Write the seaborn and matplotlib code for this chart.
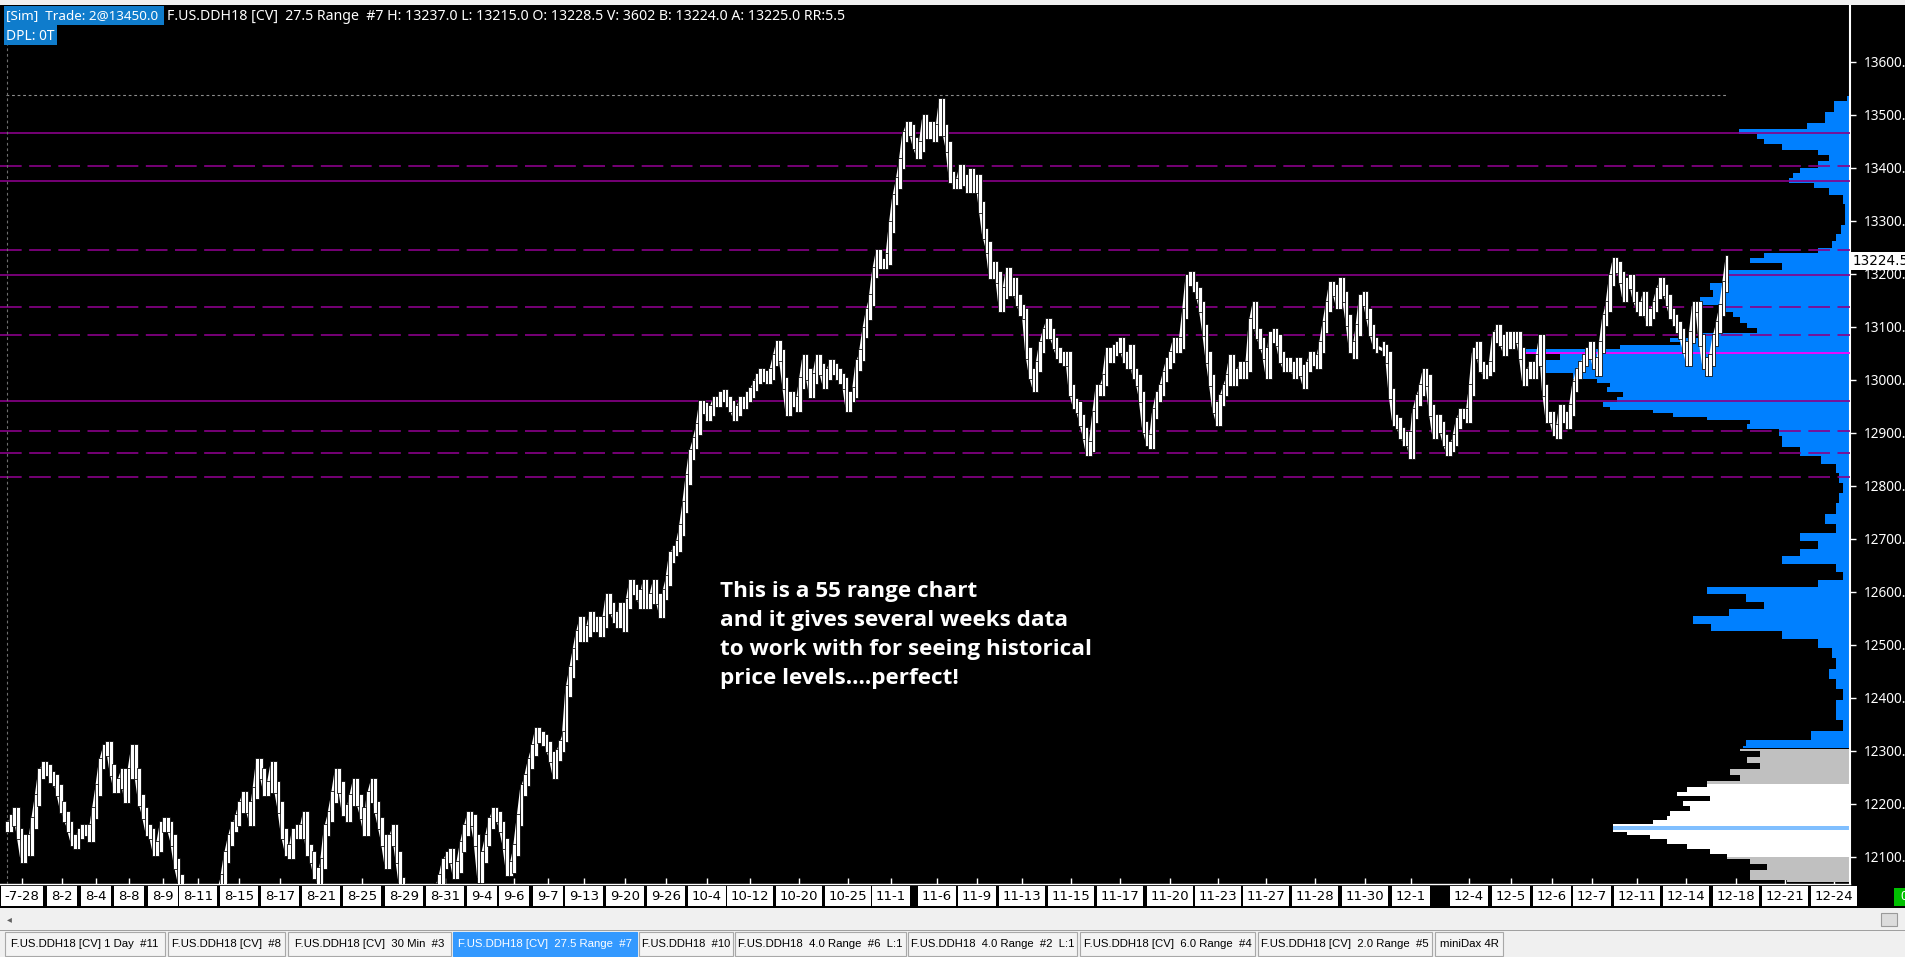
import numpy as np
import matplotlib
matplotlib.use("Agg")
import matplotlib.pyplot as plt
import matplotlib.transforms as mtrans
from matplotlib.patches import Rectangle
import seaborn as sns

W, H = 1905, 957

# ---------------- data ----------------
# price readings (mid of each range bar), four consecutive segments
segA_start, segA_step = 7.14, 3.5714
segA = [12157, 12169, 12182, 12144, 12100, 12131, 12113, 12163, 12207, 12257,
        12270, 12264, 12251, 12245, 12226, 12194, 12176, 12157, 12131, 12125,
        12144, 12150, 12150, 12138, 12182, 12226, 12276, 12301, 12308, 12264,
        12232, 12238, 12257, 12213, 12257, 12301, 12257, 12207, 12182, 12150,
        12144, 12113, 12119, 12157, 12163, 12157, 12131, 12087, 12056, 12037,
        12020, 11990, 11970, 11960, 11970, 11980, 11990, 12000, 12010, 12030,
        12056, 12100, 12131, 12157, 12169, 12194, 12213, 12194, 12169, 12220,
        12276, 12257, 12226, 12232, 12270, 12232, 12194, 12144, 12113, 12106,
        12144, 12150, 12144, 12176, 12113, 12100, 12069, 12056, 12087, 12150,
        12176, 12213, 12257, 12232, 12188, 12176, 12207, 12238, 12207, 12182,
        12150, 12213, 12238, 12194, 12163, 12131, 12087, 12131, 12150, 12100,
        12050, 12030, 12010, 11990, 11980, 11975, 11980, 11990, 12000, 12020,
        12040, 12056, 12087, 12100, 12106, 12069, 12081, 12119, 12150, 12176,
        12169, 12131, 12062, 12100, 12131, 12163, 12182, 12176, 12157, 12125,
        12075, 12081, 12113, 12169, 12226, 12245, 12276, 12301, 12333, 12326,
        12320, 12308, 12289, 12257]
segB_start, segB_step = 556.67, 3.3333
segB = [12292, 12309, 12327, 12413, 12448, 12483, 12517, 12543, 12517, 12526,
        12552, 12535, 12543, 12526, 12543, 12587, 12569, 12552, 12543, 12569,
        12535, 12578, 12613, 12604, 12595, 12578, 12613, 12578, 12587, 12613,
        12587, 12561, 12595, 12621, 12665, 12678, 12686, 12716, 12760, 12812,
        12859, 12881, 12907, 12950, 12946, 12933, 12942, 12959, 12959, 12968,
        12972, 12959, 12950, 12933, 12942, 12959, 12955, 12968, 12976, 12989,
        13002, 13011, 13007, 13002, 13011, 13037, 13063, 13046, 12994, 12942,
        12968, 12959, 12950, 12994, 13037, 13011, 12976, 13002, 13037, 13020,
        12994, 13011, 13028, 13020, 13011, 13002, 12994, 12950, 12968, 12976,
        13028, 13046, 13089, 13124, 13150, 13202, 13236, 13219, 13219, 13228,
        13288, 13340, 13371]
segC_start, segC_step = 900.0, 3.3333
segC = [13408, 13459, 13477, 13471, 13446, 13427, 13440, 13490, 13465, 13477,
        13459, 13471, 13521, 13471, 13440, 13383, 13370, 13370, 13396, 13377,
        13364, 13389, 13364, 13377, 13326, 13276, 13251, 13201, 13213, 13194,
        13138, 13163, 13201, 13169, 13182, 13150, 13131, 13125, 13050, 13012,
        12987, 13025, 13062, 13087, 13106, 13087, 13069, 13050, 13043, 13037,
        13043, 12981, 12955, 12949, 12924, 12899, 12867, 12874, 12930, 12981,
        12981, 12999, 13050, 13043, 13056, 13062, 13069, 13043, 13031, 13056,
        13012, 12999, 12968, 12911, 12886, 12880, 12936, 12968, 12981, 13006,
        13031, 13043, 13069, 13062, 13069, 13125, 13188, 13194, 13176, 13163,
        13138, 13094, 13043, 12999, 12949, 12924, 12962, 12981, 12999, 13037,
        12999, 13012, 13025, 13012, 13025, 13106, 13138, 13087, 13069, 13050,
        13012, 13081, 13087, 13075, 13043, 13025, 13031, 13025, 13012, 13031,
        13018, 12993, 13025, 13043, 13037, 13031, 13062, 13100, 13138, 13176,
        13169, 13144, 13182, 13157, 13113, 13062, 13050, 13094, 13150, 13157,
        13125, 13094, 13069, 13062]
segD_start, segD_step = 1383.33, 3.3333
segD = [13056, 13043, 12974, 12924, 12918, 12899, 12886, 12892, 12861, 12936,
        12962, 12981, 13012, 12999, 12943, 12899, 12924, 12911, 12886, 12867,
        12874, 12886, 12918, 12936, 12936, 12930, 12981, 13050, 13062, 13025,
        13012, 13018, 13025, 13081, 13094, 13075, 13056, 13081, 13069, 13081,
        13081, 13050, 12999, 13012, 13025, 13012, 13037, 13075, 12981, 12930,
        12930, 12905, 12899, 12943, 12930, 12918, 12943, 12987, 13012, 13025,
        13037, 13050, 13062, 13031, 13018, 13062, 13113, 13138, 13188, 13220,
        13213, 13194, 13157, 13182, 13188, 13157, 13138, 13131, 13157, 13113,
        13125, 13138, 13163, 13182, 13169, 13150, 13125, 13113, 13100, 13087,
        13062, 13037, 13081, 13138, 13138, 13075, 13031, 13018, 13037, 13075,
        13100, 13131, 13176, 13224.5]
last_price = 13224.5
range_half = 11.0

# date labels along the bottom and their bar positions
date_labels = ["-7-28", "8-2", "8-4", "8-8", "8-9", "8-11", "8-15", "8-17", "8-21",
               "8-25", "8-29", "8-31", "9-4", "9-6", "9-7", "9-13", "9-20", "9-26",
               "10-4", "10-12", "10-20", "10-25", "11-1", "11-6", "11-9", "11-13",
               "11-15", "11-17", "11-20", "11-23", "11-27", "11-28", "11-30", "12-1",
               "12-4", "12-5", "12-6", "12-7", "12-11", "12-14", "12-18", "12-21", "12-24"]
date_pos = [22, 62, 96, 129, 163, 198, 239, 280, 321, 362, 404, 445, 482, 514, 548,
            584, 625, 666, 707, 750, 799, 848, 891, 937, 977, 1022, 1071, 1120, 1170,
            1218, 1266, 1315, 1365, 1411, 1469, 1511, 1552, 1592, 1637, 1686, 1736,
            1785, 1834]

# price axis
price_ticks = list(range(12100, 13601, 100))

# horizontal levels
level_price = [13465, 13403, 13375, 13245, 13198, 13137, 13084, 12960, 12904, 12862, 12816]
level_dashed = [False, True, False, True, False, True, True, False, True, True, True]
high_mark = 13537
vwap_level = 13050

# volume profile (upper, blue): price level -> volume (width units)
prof_price = [13536, 13517, 13492, 13478, 13468, 13458, 13449, 13439, 13429, 13419,
              13405, 13395, 13385, 13375, 13366, 13356, 13341, 13322, 13302, 13283,
              13268, 13254, 13244, 13234, 13224, 13215, 13200, 13188, 13176, 13163,
              13150, 13131, 13125, 13113, 13100, 13094, 13083, 13075, 13069, 13062,
              13054, 13043, 13031, 13018, 13006, 12996, 12990, 12981, 12971, 12962,
              12952, 12946, 12940, 12933, 12927, 12921, 12911, 12903, 12883, 12864,
              12849, 12834, 12815, 12796, 12776, 12757, 12737, 12718, 12703, 12688,
              12674, 12659, 12644, 12630, 12615, 12601, 12591, 12571, 12562, 12547,
              12532, 12518, 12503, 12484, 12464, 12445, 12425, 12406, 12386, 12367,
              12347, 12328, 12313, 12306]
prof_vol = [3, 16, 25, 43, 111, 93, 86, 68, 32, 21,
            32, 50, 57, 61, 36, 21, 7, 5, 5, 9,
            14, 18, 32, 86, 100, 68, 122, 121, 140, 137,
            150, 127, 117, 110, 103, 93, 150, 180, 170, 230,
            329, 290, 310, 307, 277, 253, 240, 243, 227, 233,
            247, 240, 197, 177, 143, 100, 103, 71, 68, 50,
            29, 14, 11, 7, 11, 14, 25, 14, 50, 32,
            50, 68, 14, 7, 32, 143, 104, 86, 121, 157,
            139, 68, 32, 18, 14, 21, 14, 7, 14, 14,
            7, 39, 104, 107]
# lower (older) profile
low_price = [12304, 12295, 12282, 12270, 12260, 12248, 12238, 12226, 12220, 12210,
             12201, 12191, 12182, 12172, 12166, 12157, 12150, 12144, 12138, 12128,
             12119, 12110, 12100, 12091, 12081, 12069, 12059, 12053]
low_vol = [110, 90, 103, 90, 120, 110, 143, 163, 173, 140,
           167, 160, 180, 183, 197, 237, 237, 223, 200, 183,
           163, 140, 123, 100, 83, 100, 100, 63]
value_area = (12095, 12245)
poc_band = (12148, 12160)

header1 = "[Sim]  Trade: 2@13450.0"
header2 = ("F.US.DDH18 [CV]  27.5 Range  #7 H: 13237.0 L: 13215.0 O: 13228.5 "
           "V: 3602 B: 13224.0 A: 13225.0 RR:5.5")
header3 = "DPL: 0T"
note_lines = ["This is a 55 range chart", "and it gives several weeks data",
              "to work with for seeing historical", "price levels....perfect!"]
tabs = ["F.US.DDH18 [CV] 1 Day  #11", "F.US.DDH18 [CV]  #8", "F.US.DDH18 [CV]  30 Min  #3",
        "F.US.DDH18 [CV]  27.5 Range  #7", "F.US.DDH18  #10", "F.US.DDH18  4.0 Range  #6  L:1",
        "F.US.DDH18  4.0 Range  #2  L:1", "F.US.DDH18 [CV]  6.0 Range  #4",
        "F.US.DDH18 [CV]  2.0 Range  #5", "miniDax 4R"]
active_tab = 3

# ---------------- style ----------------
sns.set_theme(style="dark")
plt.rcParams['font.family'] = ['Noto Sans', 'DejaVu Sans']
tabfont = ['Liberation Sans', 'DejaVu Sans']

BLUE = '#0080ff'
PURPLE = '#8a008a'

fig = plt.figure(figsize=(W / 100, H / 100), dpi=100, facecolor='black')


def fx(px):
    return px / W


def fy(py):
    return 1 - py / H


AX_R = 1850
ax = fig.add_axes([0, fy(884), AX_R / W, (884 - 6) / H])
ax.set_facecolor('black')
ax.grid(False)
X_MAX = 1850
ax.set_xlim(0, X_MAX)
ax.set_ylim(12048.5, 13705.1)

# ---- volume profile ----
pp = np.array(prof_price, float)
pv = np.array(prof_vol, float)
ax.fill_betweenx(pp, X_MAX - pv, X_MAX, step='mid', color=BLUE, lw=0, zorder=2)
lp = np.array(low_price, float)
lv = np.array(low_vol, float)
in_va = (lp >= value_area[0]) & (lp <= value_area[1])
in_poc = (lp >= poc_band[0]) & (lp <= poc_band[1])
ax.fill_betweenx(lp, X_MAX - lv, X_MAX, step='mid', color='#c0c0c0', lw=0, zorder=2)
ax.fill_betweenx(lp, X_MAX - lv, X_MAX, where=in_va, step='mid', color='white',
                 lw=0, zorder=2, interpolate=False)
ax.fill_betweenx(lp, X_MAX - lv, X_MAX, where=in_poc, step='mid', color='#80bfff',
                 lw=0, zorder=2)

# ---- levels ----
for p, d in zip(level_price, level_dashed):
    ax.axhline(p, color=PURPLE, lw=1.2, ls=(0, (13, 4.5)) if d else '-', zorder=3)
ax.hlines(vwap_level, 1522, X_MAX, color='#ff00ff', lw=1.3, zorder=3)
ax.hlines(high_mark, 6, 1728, color='#8c8c8c', lw=0.8, ls=(0, (2.5, 2.5)), zorder=3)
ax.axvline(6.5, color='#6e6e6e', lw=0.8, ls=(0, (2.5, 2.5)), zorder=3)

# ---- price bars ----
xs, ps = [], []
for st, sp, vals in [(segA_start, segA_step, segA), (segB_start, segB_step, segB),
                     (segC_start, segC_step, segC), (segD_start, segD_step, segD)]:
    xs.append(st + sp * np.arange(len(vals)))
    ps.append(np.array(vals, float))
xs = np.concatenate(xs)
ps = np.concatenate(ps)
sns.lineplot(x=xs, y=ps, color='white', lw=2.2, ax=ax, zorder=4, sort=False)
prev = np.r_[ps[0], ps[:-1]]
lo = np.minimum(prev, ps) - range_half
hi = np.maximum(prev, ps) + range_half
ax.bar(xs, hi - lo, bottom=lo, width=3.6, color='white', edgecolor='black',
       linewidth=0.55, zorder=5)

# ---- axes cosmetics ----
for s in ['top', 'left']:
    ax.spines[s].set_visible(False)
ax.spines['right'].set_color('white')
ax.spines['right'].set_linewidth(1.5)
ax.spines['bottom'].set_color('white')
ax.spines['bottom'].set_linewidth(1.0)
ax.yaxis.tick_right()
ax.set_yticks(price_ticks)
ax.set_yticklabels([f"{v:.1f}" for v in price_ticks])
ax.tick_params(axis='y', colors='white', length=4, width=1, pad=6, labelsize=9.8,
               direction='out', right=True, left=False)
ax.set_xticks(date_pos)
ax.set_xticklabels([])
ax.tick_params(axis='x', colors='white', length=4, width=1, direction='in', bottom=True)
ax.set_xlabel('')
ax.set_ylabel('')

trans = mtrans.blended_transform_factory(ax.transData, ax.transAxes)
y_lab = -(896 - 884) / (884 - 6)
for lab, xp in zip(date_labels, date_pos):
    ax.text(xp, y_lab, lab, transform=trans, ha='center', va='center', fontsize=9.5,
            family=['DejaVu Sans'], color='black', clip_on=False, zorder=10,
            bbox=dict(boxstyle='square,pad=0.3', fc='white', ec='none'))

# last price tag on the price axis
ytrans = mtrans.blended_transform_factory(ax.transAxes, ax.transData)
ax.text(1.0015, last_price, f"{last_price:.1f}", transform=ytrans, ha='left', va='center',
        fontsize=9.8, color='black', family=['DejaVu Sans'], clip_on=False, zorder=12,
        bbox=dict(boxstyle='square,pad=0.15', fc='white', ec='none'))

# ---- annotation ----
for i, line in enumerate(note_lines):
    fig.text(fx(720), fy(591 + 29.3 * i), line, color='white', fontsize=16.2,
             fontweight='bold', family=['Open Sans', 'DejaVu Sans'], va='center', ha='left')

# ---- header ----
fig.patches.append(Rectangle((0, fy(5)), 1, 5 / H, transform=fig.transFigure,
                             fc='#f0f0f0', ec='none', zorder=1))
fig.patches.append(Rectangle((fx(4), fy(25)), fx(164 - 4), 19 / H, transform=fig.transFigure,
                             fc='#0f7ccc', ec='none', zorder=2))
fig.patches.append(Rectangle((fx(4), fy(45)), fx(57 - 4), 20 / H, transform=fig.transFigure,
                             fc='#0f7ccc', ec='none', zorder=2))
fig.text(fx(6), fy(16), header1, color='white', fontsize=9.7, va='center', ha='left', zorder=3)
fig.text(fx(167), fy(16), header2, color='white', fontsize=10.2, va='center', ha='left', zorder=3)
fig.text(fx(6), fy(36), header3, color='white', fontsize=9.9, va='center', ha='left', zorder=3)

# ---- bottom bars ----
fig.patches.append(Rectangle((0, 0), 1, fy(908), transform=fig.transFigure,
                             fc='#f0f0f0', ec='none', zorder=1))
fig.patches.append(Rectangle((0, fy(931)), 1, 1 / H, transform=fig.transFigure,
                             fc='#a0a0a0', ec='none', zorder=2))
fig.text(fx(9), fy(919), "\u25c2", color='#606060', fontsize=7, va='center', ha='center',
         family=['DejaVu Sans'])
fig.patches.append(Rectangle((fx(1881), fy(926)), fx(16), 13 / H, transform=fig.transFigure,
                             fc='#dcdcdc', ec='#9a9a9a', lw=0.8, zorder=2))
fig.patches.append(Rectangle((fx(1894), fy(906)), fx(12), 18 / H, transform=fig.transFigure,
                             fc='#00c000', ec='none', zorder=2))
fig.text(fx(1900), fy(897), "0", color='white', fontsize=9, va='center', ha='left', zorder=3)

tab_edges = [(5, 165), (168, 285), (288, 451), (453, 637), (639, 733), (735, 906),
             (908, 1077), (1080, 1255), (1258, 1432), (1435, 1503)]
for i, (lab, (x0, x1)) in enumerate(zip(tabs, tab_edges)):
    act = i == active_tab
    fig.patches.append(Rectangle((fx(x0), fy(956)), fx(x1 - x0), 24 / H,
                                 transform=fig.transFigure,
                                 fc='#3399ff' if act else '#f4f4f4',
                                 ec='#3399ff' if act else '#a8a8a8', lw=0.8, zorder=2))
    t = fig.text(fx((x0 + x1) / 2), fy(944), lab, color='white' if act else 'black',
                 fontsize=8.2, family=tabfont, va='center', ha='center', zorder=3)

# shrink tab labels that would not fit in their tab
fig.canvas.draw()
r = fig.canvas.get_renderer()
for txt, (x0, x1) in zip([t for t in fig.texts if t.get_fontsize() == 8.2], tab_edges):
    wpx = txt.get_window_extent(r).width
    if wpx > (x1 - x0) - 6:
        txt.set_fontsize(8.2 * ((x1 - x0) - 6) / wpx)

fig.savefig("out.png", dpi=100, facecolor='black')
